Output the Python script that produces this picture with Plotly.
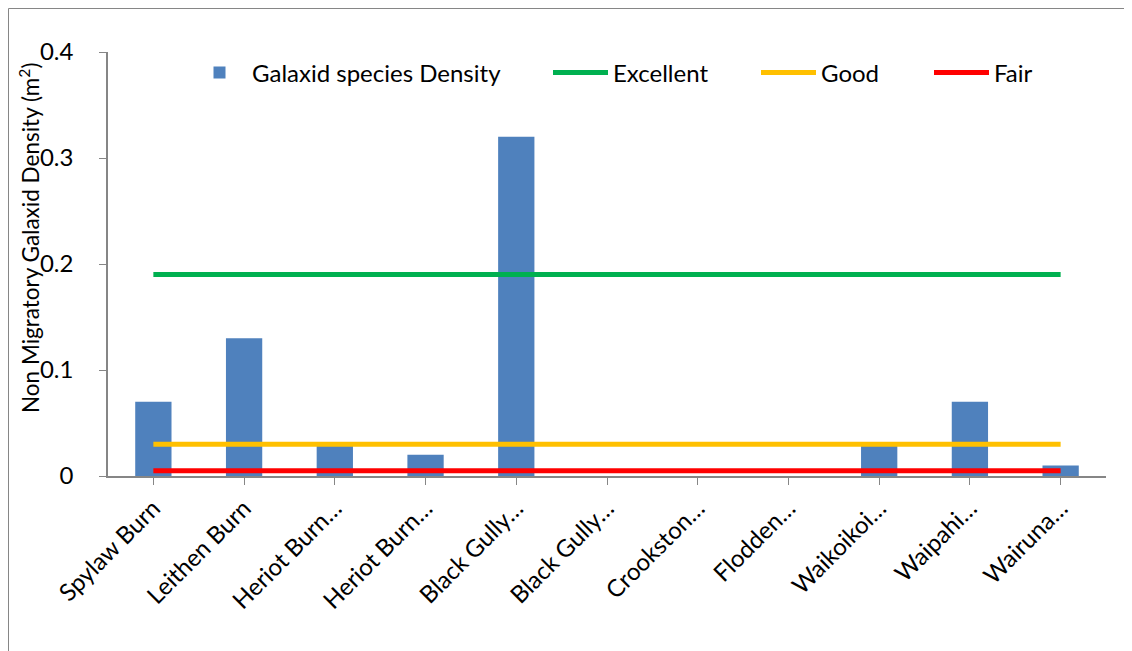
import plotly.graph_objects as go

categories = ["Spylaw Burn", "Leithen Burn", "Heriot Burn…", "Heriot Burn…", "Black Gully…",
              "Black Gully…", "Crookston…", "Flodden…", "Waikoikoi…", "Waipahi…", "Wairuna…"]
density = [0.07, 0.13, 0.03, 0.02, 0.32, 0, 0, 0, 0.03, 0.07, 0.01]
excellent = [0.19] * 11
good = [0.03] * 11
fair = [0.005] * 11

x_idx = list(range(len(categories)))

# figure size (page has an 8px body margin)
W, H = 1124, 643
L, R, T, B = 100, 1098, 44, 468
pw, ph = R - L, B - T


def px_x(v):
    return (v - L) / pw


def px_y(v):
    return (B - v) / ph


FONT = "Lato, Open Sans, sans-serif"
leg_y = px_y(65)
IW = 55

fig = go.Figure()
fig.add_trace(go.Bar(x=x_idx, y=density, name="Galaxid species Density",
                     marker=dict(color="#4F81BD", line=dict(width=0)), legend="legend"))
fig.add_trace(go.Scatter(x=x_idx, y=excellent, name="Excellent", mode="lines",
                         line=dict(color="#00B050", width=5), legend="legend2"))
fig.add_trace(go.Scatter(x=x_idx, y=good, name="Good", mode="lines",
                         line=dict(color="#FFC000", width=5), legend="legend3"))
fig.add_trace(go.Scatter(x=x_idx, y=fair, name="Fair", mode="lines",
                         line=dict(color="#FF0000", width=5), legend="legend4"))

fig.add_shape(type="rect", xref="paper", yref="paper",
              x0=px_x(0.5), x1=px_x(W + 20),
              y0=px_y(H + 20), y1=px_y(0.5),
              line=dict(color="#868686", width=1), layer="below")

fig.add_annotation(text="Non Migratory Galaxid Density (m<sup>2</sup>)", textangle=-90,
                   xref="paper", yref="paper", x=px_x(21), y=px_y(230),
                   xanchor="center", yanchor="middle", showarrow=False,
                   font=dict(size=22.5, family=FONT, color="black"))


def leg(xpix):
    return dict(orientation="h", x=px_x(xpix), y=leg_y, xanchor="left", yanchor="middle",
                font=dict(size=24, family=FONT, color="black"), bgcolor="rgba(0,0,0,0)",
                itemwidth=IW)


fig.update_layout(
    width=W, height=H,
    margin=dict(l=L, r=W - R, t=T, b=H - B),
    paper_bgcolor="white", plot_bgcolor="white",
    font=dict(family=FONT, color="black", size=24),
    bargap=0.6,
    showlegend=True,
    legend=leg(245 - 8 - IW - 10 + 7),
    legend2=leg(546 - 13 + 7),
    legend3=leg(755 - 13 + 6),
    legend4=leg(928 - 13 + 6),
    xaxis=dict(tickmode="array", tickvals=x_idx, ticktext=categories, tickangle=-45,
               range=[-0.5, 10.5], showline=True, linecolor="#868686", linewidth=1.5,
               ticks="outside", tickson="boundaries", ticklen=7, tickcolor="#868686",
               showgrid=False, zeroline=False, tickfont=dict(size=24)),
    yaxis=dict(range=[0, 0.4], tickvals=[0, 0.1, 0.2, 0.3, 0.4],
               ticktext=["0", "0.1", "0.2", "0.3", "0.4"],
               showline=True, linecolor="#868686", linewidth=1.5,
               ticks="outside", ticklen=7, tickcolor="#868686", ticklabelstandoff=21,
               showgrid=False, zeroline=False, tickfont=dict(size=24)),
)

fig.write_html("out.html")
